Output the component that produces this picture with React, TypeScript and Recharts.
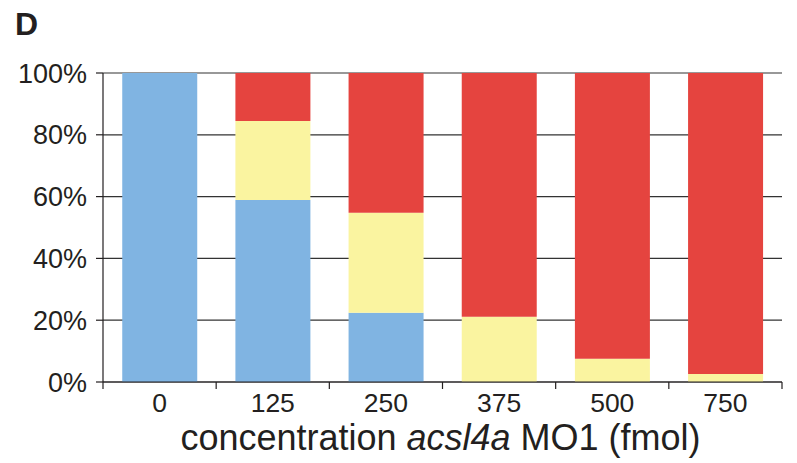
import React from 'react';
import { BarChart, Bar, XAxis, YAxis, CartesianGrid } from 'recharts';

// concentration of acsl4a MO1 (fmol)
const categories = ['0', '125', '250', '375', '500', '750'];
// share of embryos per class, in percent (bottom to top)
const blueShare = [100, 58.9, 22.4, 0, 0, 0];
const yellowShare = [0, 25.6, 32.4, 21.1, 7.5, 2.6];
const redShare = [0, 15.5, 45.2, 78.9, 92.5, 97.4];
const yTicks = [0, 20, 40, 60, 80, 100];

const data = categories.map((c, i) => ({
  conc: c,
  blue: blueShare[i],
  yellow: yellowShare[i],
  red: redShare[i],
}));

const FONT = 'Liberation Sans, Arial, Helvetica, sans-serif';
const INK = '#231f20';

// category label at the centre, tick marks at the category edges
const XTick = (props: any) => {
  const { x, y, payload, index, width } = props;
  const half = payload.offset ? payload.offset : width / categories.length / 2;
  return (
    <g>
      <line x1={x - half} x2={x - half} y1={y} y2={y + 7} stroke={INK} strokeWidth={1.2} />
      {index === categories.length - 1 && (
        <line x1={x + half} x2={x + half} y1={y} y2={y + 7} stroke={INK} strokeWidth={1.2} />
      )}
      <text x={x} y={y + 30} textAnchor="middle" fontSize={26.5} fill={INK} fontFamily={FONT}>
        {payload.value}
      </text>
    </g>
  );
};

const XLabel = (props: any) => {
  const { x, y, width } = props.viewBox;
  return (
    <text x={x + width / 2 - 2} y={y + 68} textAnchor="middle" fontSize={36} fill={INK} fontFamily={FONT}>
      <tspan>concentration </tspan>
      <tspan fontStyle="italic">acsl4a</tspan>
      <tspan> MO1 (fmol)</tspan>
    </text>
  );
};

export default function App() {
  return (
    <div style={{ position: 'absolute', left: 0, top: 0, width: 797, height: 463, background: '#fff' }}>
      <svg width={797} height={463} style={{ position: 'absolute', left: 0, top: 0 }}>
        <text x={15} y={35} fontSize={32} fontWeight="bold" fill={INK} fontFamily={FONT}>
          D
        </text>
      </svg>
      <div style={{ position: 'absolute', left: 0, top: 0 }}>
        <BarChart
          width={797}
          height={463}
          data={data}
          margin={{ top: 73, right: 15, left: 0, bottom: 0 }}
          barCategoryGap="17%"
        >
          <CartesianGrid vertical={false} stroke="#333" strokeWidth={1.2} />
          <XAxis
            dataKey="conc"
            height={81}
            tickLine={false}
            tickSize={0}
            tickMargin={0}
            interval={0}
            axisLine={{ stroke: INK, strokeWidth: 1.2 }}
            tick={<XTick />}
            label={<XLabel />}
          />
          <YAxis
            width={103}
            domain={[0, 100]}
            ticks={yTicks}
            tickFormatter={(v: number) => `${v}%`}
            tickSize={7}
            tickMargin={9}
            tickLine={{ stroke: INK, strokeWidth: 1.2 }}
            axisLine={{ stroke: INK, strokeWidth: 1.2 }}
            tick={{ fontSize: 27, fill: INK, fontFamily: FONT }}
          />
          <Bar dataKey="blue" stackId="a" fill="#80b4e2" isAnimationActive={false} />
          <Bar dataKey="yellow" stackId="a" fill="#faf4a0" isAnimationActive={false} />
          <Bar dataKey="red" stackId="a" fill="#e5443f" isAnimationActive={false} />
        </BarChart>
      </div>
    </div>
  );
}
